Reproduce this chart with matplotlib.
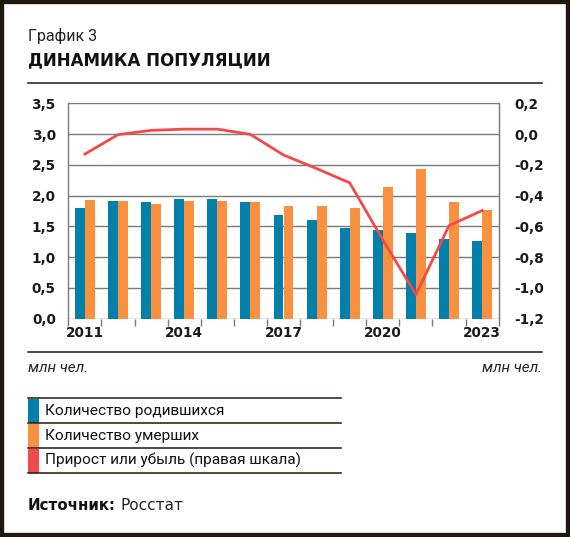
import matplotlib
matplotlib.use("Agg")
import matplotlib.pyplot as plt
from matplotlib.patches import Rectangle
from matplotlib.lines import Line2D
import numpy as np

# data, million people
years = [2011, 2012, 2013, 2014, 2015, 2016, 2017, 2018, 2019, 2020, 2021, 2022, 2023]
births = [1.80, 1.91, 1.90, 1.94, 1.94, 1.89, 1.69, 1.60, 1.48, 1.44, 1.40, 1.30, 1.26]
deaths = [1.93, 1.91, 1.87, 1.91, 1.91, 1.89, 1.83, 1.83, 1.80, 2.14, 2.44, 1.90, 1.76]
natural = [-0.13, -0.004, 0.024, 0.032, 0.032, -0.002, -0.136, -0.224, -0.317, -0.688, -1.043, -0.595, -0.497]
year_labels = ["2011", "2014", "2017", "2020", "2023"]
legend_labels = ["Количество родившихся", "Количество умерших", "Прирост или убыль (правая шкала)"]

blue = "#0080ab"
orange = "#fa9140"
red = "#f24b47"
dark = "#22170c"
grid = "#7a7a7a"

plt.rcParams["font.family"] = ["DejaVu Sans"]

W, H = 570, 537
fig = plt.figure(figsize=(W / 100, H / 100), dpi=100)

def fx(px):
    return px / W

def fy(py):
    return 1 - py / H

ax = fig.add_axes([fx(68.3), fy(318.7), fx(498.7) - fx(68.3), fy(103.3) - fy(318.7)])
x = np.arange(len(years))
bw = 0.3
ax.bar(x - bw / 2, births, bw, color=blue, zorder=3)
ax.bar(x + bw / 2, deaths, bw, color=orange, zorder=3)
ax.set_xlim(-0.5, len(years) - 0.5)
ax.set_ylim(0, 3.5)
ax.set_yticks(np.arange(0, 3.51, 0.5))
ax.set_yticklabels([f"{v:.1f}".replace(".", ",") for v in np.arange(0, 3.51, 0.5)])
ax.yaxis.grid(True, color=grid, lw=1.0, zorder=0)
ax.tick_params(axis="y", length=0, pad=9)
ax.set_xticks([years.index(int(y)) for y in year_labels])
ax.set_xticklabels(year_labels)
ax.set_xticks(np.arange(-0.5, len(years)), minor=True)
ax.tick_params(axis="x", which="major", length=0, pad=5)
ax.tick_params(axis="x", which="minor", length=5, color=grid, width=1)
for s in ["top", "bottom"]:
    ax.spines[s].set_visible(False)
for s in ["left", "right"]:
    ax.spines[s].set_color(grid)
    ax.spines[s].set_linewidth(1.0)

ax2 = ax.twinx()
ax2.plot(x, natural, color=red, lw=2.0, zorder=5)
ax2.set_ylim(-1.2, 0.2)
rt = np.arange(-1.2, 0.21, 0.2)
ax2.set_yticks(rt)
ax2.set_yticklabels([f"{v:.1f}".replace(".", ",").replace("-0,0", "0,0") for v in rt])
ax2.tick_params(axis="y", length=0, pad=11)
for s in ["top", "bottom", "left"]:
    ax2.spines[s].set_visible(False)
ax2.spines["right"].set_color(grid)

for lab in ax.get_xticklabels() + ax.get_yticklabels() + ax2.get_yticklabels():
    lab.set_fontfamily("DejaVu Sans")
    lab.set_fontweight("bold")
    lab.set_fontsize(9.8)
    lab.set_color("#1a1a1a")

# header
fig.text(fx(28), fy(36), "График 3", family="Roboto", fontsize=11.5, va="center", color="#222222")
fig.text(fx(28), fy(60), "ДИНАМИКА ПОПУЛЯЦИИ", family="DejaVu Sans", weight="bold", fontsize=12,
         va="center", color="#111111")

def hrule(py, x0, x1):
    fig.add_artist(Line2D([fx(x0), fx(x1)], [fy(py), fy(py)], transform=fig.transFigure, color=dark, lw=1.1))

hrule(83.3, 28, 542)
hrule(352.3, 28, 542)

fig.text(fx(28), fy(368), "млн чел.", family="Roboto", style="italic", fontsize=11, va="center", color="#222222")
fig.text(fx(542), fy(368), "млн чел.", family="Roboto", style="italic", fontsize=11, va="center", ha="right",
         color="#222222")

# legend as table
rows = [398.3, 423.3, 448.3, 473.3]
for py in rows:
    hrule(py, 28, 341)
for i, (lab, c) in enumerate(zip(legend_labels, [blue, orange, red])):
    fig.add_artist(Rectangle((fx(28.3), fy(rows[i + 1] - 0.6)), fx(38.7) - fx(28.3), fy(rows[i] + 0.6) - fy(rows[i + 1] - 0.6),
                             transform=fig.transFigure, color=c, lw=0))
    fig.text(fx(45), fy((rows[i] + rows[i + 1]) / 2), lab, family="Roboto", fontsize=11.1,
             va="center", color="#111111")

fig.text(fx(28), fy(506), "Источник:", family="DejaVu Sans", weight="bold", fontsize=10.8, va="center",
         color="#111111")
fig.text(fx(121), fy(506), "Росстат", family="DejaVu Sans", fontsize=11, va="center", color="#222222")

fig.add_artist(Rectangle((0, 0), 1, 1, transform=fig.transFigure, fill=False, edgecolor=dark, lw=6))

fig.savefig("out.png", dpi=100)
